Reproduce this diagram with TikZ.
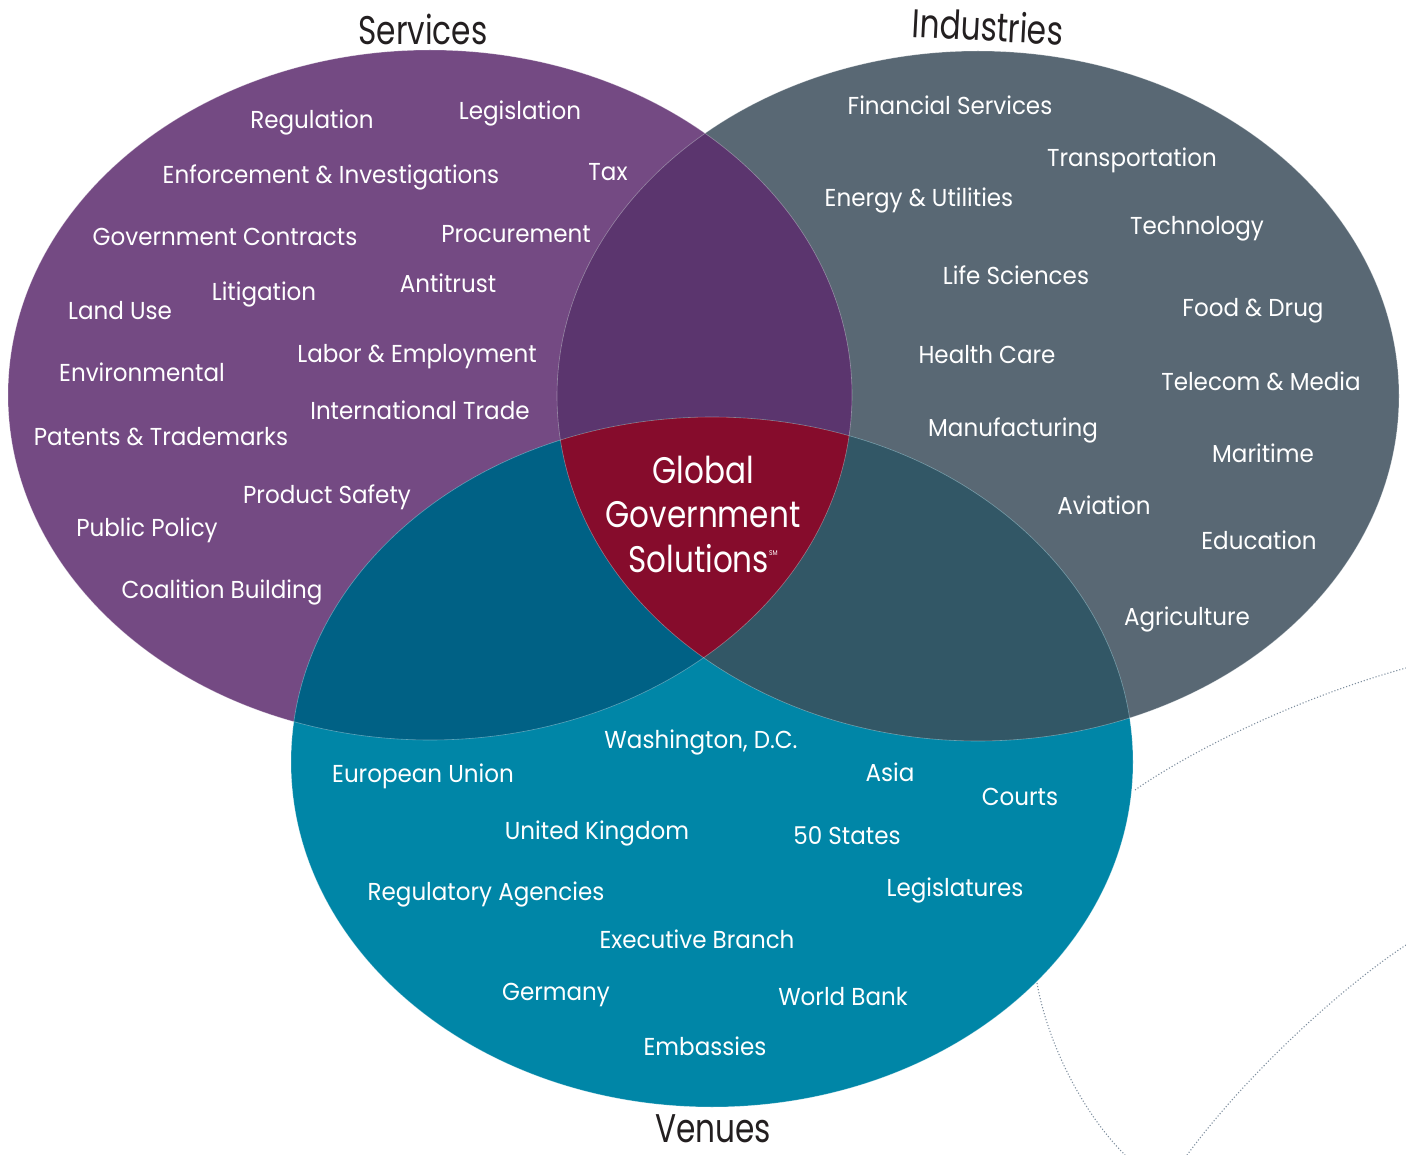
\documentclass[tikz,border=0pt]{standalone}
\usepackage{fontspec}
\setmainfont{Poppins}[FakeStretch=0.94]
\newfontfamily\titlefont{Poppins}[FakeStretch=0.78]
\newfontfamily\centerfont{Poppins}[FakeStretch=0.84]
\definecolor{cpurple}{HTML}{744A83}
\definecolor{cgrey}{HTML}{596874}
\definecolor{cteal}{HTML}{0086A7}
\definecolor{cpg}{HTML}{5B356E}
\definecolor{ctp}{HTML}{006185}
\definecolor{ctg}{HTML}{325766}
\definecolor{cred}{HTML}{860C2C}
\definecolor{ctitle}{HTML}{231F20}
\definecolor{cdot}{HTML}{7F8F9F}
\begin{document}
\begin{tikzpicture}[x=1pt,y=-1pt,
  item/.style={text=white,anchor=base,inner sep=0pt,font=\fontsize{24.5}{24.5}\selectfont},
  title/.style={text=ctitle,anchor=base,inner sep=0pt,text depth=0pt,font=\titlefont\fontsize{40}{40}\selectfont},
  ctext/.style={text=white,anchor=base,inner sep=0pt,font=\centerfont\fontsize{37}{37}\selectfont},
  dotline/.style={cdot,dotted,line width=1.1pt},
  edge/.style={white,opacity=0.35,line width=0.6pt}]
\useasboundingbox (0,0) rectangle (1406,1155);
\def\purpleE{(430,395) ellipse [x radius=422,y radius=345]}
\def\greyE{(978,396) ellipse [x radius=421,y radius=345]}
\def\tealE{(712,762) ellipse [x radius=421,y radius=345]}
% dotted decorations
\coordinate (d1a) at (1135,790); \coordinate (d1b) at (1406,668);
\coordinate (d2a) at (1037,983); \coordinate (d2b) at (1125,1155);
\coordinate (d3a) at (1406,945); \coordinate (d3b) at (1187,1155);
\draw[dotline] (d1a) .. controls (1185,755) and (1290,700) .. (d1b);
\draw[dotline] (d2a) .. controls (1047,1040) and (1080,1110) .. (d2b);
\draw[dotline] (d3a) .. controls (1345,985) and (1250,1070) .. (d3b);
% circles
\fill[cpurple] \purpleE;
\fill[cgrey] \greyE;
\begin{scope}\clip \purpleE; \fill[cpg] \greyE; \end{scope}
\fill[cteal] \tealE;
\begin{scope}\clip \tealE; \fill[ctp] \purpleE; \fill[ctg] \greyE; \end{scope}
\begin{scope}\clip \tealE; \clip \purpleE; \fill[cred] \greyE; \end{scope}
\draw[edge] \purpleE; \draw[edge] \greyE; \draw[edge] \tealE;
% titles
\node[title] (tserv) at (423,45) {Services};
\node[title,rotate=-3] (tind) at (987,41) {Industries};
\node[title] (tven) at (713,1142) {Venues};
% center
\node[ctext] (c1) at (703,483) {Global};
\node[ctext] (c2) at (703,527) {Government};
\node[ctext] (c3) at (703,572) {Solutions\raisebox{17pt}{\fontsize{7}{7}\selectfont SM}};
% services
\node[item] (s1) at (312,129) {Regulation};
\node[item] (s2) at (520,120) {Legislation};
\node[item] (s3) at (331,184) {Enforcement \& Investigations};
\node[item] (s4) at (608,181) {Tax};
\node[item] (s5) at (225,246) {Government Contracts};
\node[item] (s6) at (516,243) {Procurement};
\node[item] (s7) at (448,293) {Antitrust};
\node[item] (s8) at (264,301) {Litigation};
\node[item] (s9) at (120,320) {Land Use};
\node[item] (s10) at (417,363) {Labor \& Employment};
\node[item] (s11) at (142,382) {Environmental};
\node[item] (s12) at (420,420) {International Trade};
\node[item] (s13) at (161,446) {Patents \& Trademarks};
\node[item] (s14) at (327,503) {Product Safety};
\node[item] (s15) at (147,536) {Public Policy};
\node[item] (s16) at (222,598) {Coalition Building};
% industries
\node[item] (i1) at (950,115) {Financial Services};
\node[item] (i2) at (1132,167) {Transportation};
\node[item] (i3) at (919,207) {Energy \& Utilities};
\node[item] (i4) at (1197,235) {Technology};
\node[item] (i5) at (1016,285) {Life Sciences};
\node[item] (i6) at (1253,317) {Food \& Drug};
\node[item] (i7) at (987,364) {Health Care};
\node[item] (i8) at (1261,391) {Telecom \& Media};
\node[item] (i9) at (1013,437) {Manufacturing};
\node[item] (i10) at (1263,463) {Maritime};
\node[item] (i11) at (1104,514) {Aviation};
\node[item] (i12) at (1259,549) {Education};
\node[item] (i13) at (1187,625) {Agriculture};
% venues
\node[item] (v1) at (701,748) {Washington, D.C.};
\node[item] (v2) at (423,782) {European Union};
\node[item] (v3) at (890,781) {Asia};
\node[item] (v4) at (1020,805) {Courts};
\node[item] (v5) at (597,839) {United Kingdom};
\node[item] (v6) at (847,844) {50 States};
\node[item] (v7) at (486,900) {Regulatory Agencies};
\node[item] (v8) at (955,896) {Legislatures};
\node[item] (v9) at (697,948) {Executive Branch};
\node[item] (v10) at (556,1000) {Germany};
\node[item] (v11) at (843,1005) {World Bank};
\node[item] (v12) at (705,1055) {Embassies};
\end{tikzpicture}
\end{document}
